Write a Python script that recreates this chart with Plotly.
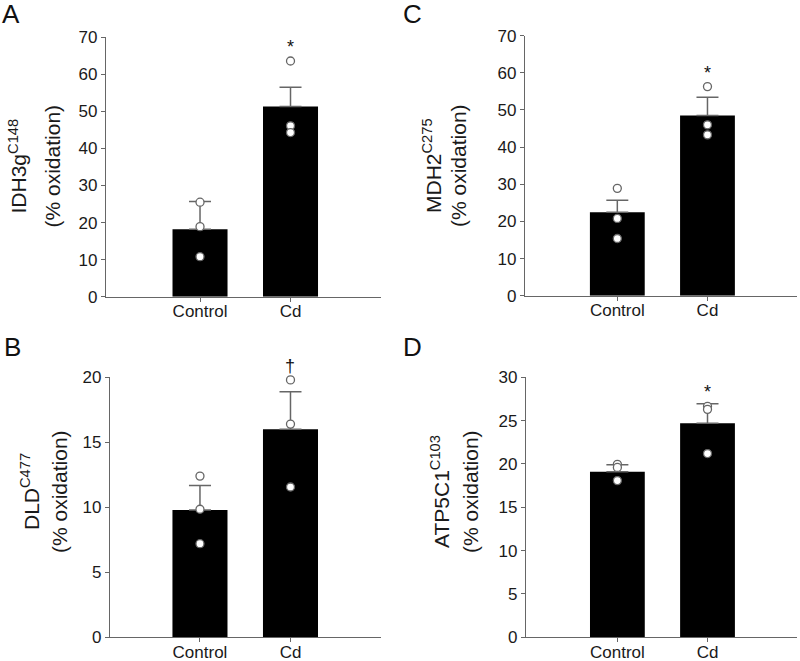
import plotly.graph_objects as go

W, H = 800, 661

categories = ["Control", "Cd"]

# Panel A: IDH3g C148
idh3g_mean = [18.2, 51.3]
idh3g_sem = [7.5, 5.2]
idh3g_control_pts = [25.5, 18.9, 10.8]
idh3g_cd_pts = [63.6, 46.1, 44.3]

# Panel B: DLD C477
dld_mean = [9.8, 16.0]
dld_sem = [1.87, 2.88]
dld_control_pts = [12.4, 9.85, 7.2]
dld_cd_pts = [19.8, 16.4, 11.56]

# Panel C: MDH2 C275
mdh2_mean = [22.5, 48.5]
mdh2_sem = [3.2, 4.9]
mdh2_control_pts = [28.9, 20.8, 15.4]
mdh2_cd_pts = [56.3, 46.0, 43.3]

# Panel D: ATP5C1 C103
atp_mean = [19.1, 24.7]
atp_sem = [0.8, 2.26]
atp_control_pts = [19.96, 19.6, 18.08]
atp_cd_pts = [26.65, 26.3, 21.2]

panel_letters = ["A", "B", "C", "D"]
protein_labels = ["IDH3g<sup>C148</sup>", "DLD<sup>C477</sup>", "MDH2<sup>C275</sup>", "ATP5C1<sup>C103</sup>"]
sig_marks = ["*", "†", "*", "*"]
y_max = [70, 20, 70, 30]
y_dtick = [10, 5, 10, 5]

panels = [
    (idh3g_mean, idh3g_sem, idh3g_control_pts, idh3g_cd_pts),
    (dld_mean, dld_sem, dld_control_pts, dld_cd_pts),
    (mdh2_mean, mdh2_sem, mdh2_control_pts, mdh2_cd_pts),
    (atp_mean, atp_sem, atp_control_pts, atp_cd_pts),
]

# layout geometry (pixels)
x_px = [(106, 381), (110, 381), (525, 797), (526, 797)]
y_px = [(296.7, 37.3), (637.3, 377.3), (295.7, 35.7), (637.3, 377.3)]
x_ranges = [[-1.039, 2.0], [-0.994, 2.0], [-1.024, 1.993], [-1.014, 1.993]]
letter_pos = [(11, 14), (12, 347), (412, 14), (412, 347)]
title1_x = [17.5, 30, 432, 440]
title2_x = [51.5, 60, 458, 471]
title_y = [166, 492, 166, 492]

FONT = "Arial, Liberation Sans, sans-serif"
AX = "#666666"
TXT = "#1a1a1a"

fig = go.Figure()
layout = dict(
    width=W, height=H, margin=dict(l=0, r=0, t=0, b=0, pad=0, autoexpand=False),
    plot_bgcolor="white", paper_bgcolor="white", showlegend=False,
    font=dict(family=FONT, color=TXT),
)
annotations = []

for i, (mean, sem, cpts, dpts) in enumerate(panels):
    n = "" if i == 0 else str(i + 1)
    xa, ya = "x" + n, "y" + n
    fig.add_trace(go.Bar(
        x=categories, y=mean, xaxis=xa, yaxis=ya, width=0.608,
        marker=dict(color="black", line=dict(width=0)),
        error_y=dict(type="data", array=sem, arrayminus=[0] * len(sem), symmetric=False,
                     color=AX, thickness=1.5, width=11),
    ))
    px_x = [categories[0]] * len(cpts) + [categories[1]] * len(dpts)
    fig.add_trace(go.Scatter(
        x=px_x, y=cpts + dpts, xaxis=xa, yaxis=ya, mode="markers", cliponaxis=False,
        marker=dict(size=8, color="white", line=dict(color=AX, width=1.3)),
    ))
    (x0, x1), (yb, yt) = x_px[i], y_px[i]
    plot_h = yb - yt
    layout["xaxis" + n] = dict(
        domain=[x0 / W, x1 / W], anchor=ya, type="category", range=x_ranges[i],
        showline=True, linecolor=AX, linewidth=1.3, ticks="outside", ticklen=4,
        tickcolor=AX, tickwidth=1.3, showgrid=False, zeroline=False, automargin=False,
        tickfont=dict(size=17, color=TXT, family=FONT), ticklabelstandoff=-5,
    )
    layout["yaxis" + n] = dict(
        domain=[1 - yb / H, 1 - yt / H], anchor=xa, range=[0, y_max[i]],
        tick0=0, dtick=y_dtick[i], showline=True, linecolor=AX, linewidth=1.3,
        ticks="outside", ticklen=4, tickcolor=AX, tickwidth=1.3, showgrid=False,
        zeroline=False, automargin=False, tickfont=dict(size=17, color=TXT, family=FONT),
    )
    # significance mark above the Cd group
    sig_y = (max(dpts) + 0.065 * y_max[i]) / y_max[i]
    annotations.append(dict(text=sig_marks[i], x=categories[1], y=sig_y - 3 / plot_h,
                            xref=xa, yref=ya + " domain", xanchor="center", yanchor="middle",
                            showarrow=False, font=dict(size=18, color="#111111", family=FONT)))
    lx, ly = letter_pos[i]
    annotations.append(dict(text=panel_letters[i], x=lx / W, y=1 - ly / H, xref="paper", yref="paper",
                            xanchor="center", yanchor="middle", showarrow=False,
                            font=dict(size=26, color="#111111", family=FONT)))
    annotations.append(dict(text=protein_labels[i], x=title1_x[i] / W, y=1 - title_y[i] / H,
                            xref="paper", yref="paper", xanchor="center", yanchor="middle",
                            textangle=-90, showarrow=False, font=dict(size=21, color=TXT, family=FONT)))
    annotations.append(dict(text="(% oxidation)", x=title2_x[i] / W, y=1 - title_y[i] / H,
                            xref="paper", yref="paper", xanchor="center", yanchor="middle",
                            textangle=-90, showarrow=False, font=dict(size=21, color=TXT, family=FONT)))

layout["annotations"] = annotations
fig.update_layout(**layout)
fig.write_html("out.html", config={"displayModeBar": False},
               post_script="document.body.style.margin='0';document.body.style.overflow='hidden';")
